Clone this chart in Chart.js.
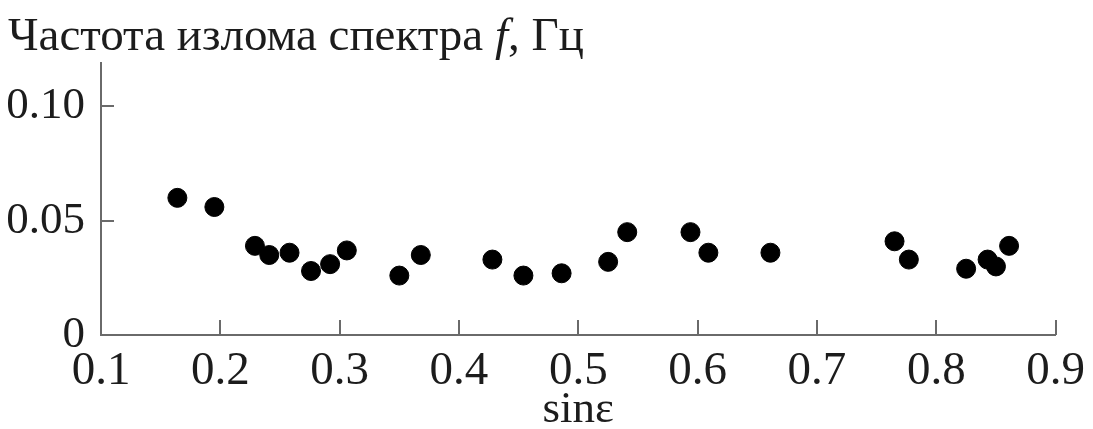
<!DOCTYPE html>
<html>
<head>
<meta charset="utf-8">
<script src="https://cdn.jsdelivr.net/npm/chart.js@4/dist/chart.umd.min.js"></script>
<style>
  html, body { margin: 0; padding: 0; background: #ffffff; }
  #wrap { width: 1093px; height: 429px; }
</style>
</head>
<body>
<div id="wrap"><canvas id="c" width="1093" height="429"></canvas></div>
<script>
// sin(ε) for each observation
const sinEps = [0.164, 0.195, 0.229, 0.241, 0.258, 0.276, 0.292, 0.306,
                0.350, 0.368, 0.428, 0.454, 0.486, 0.525, 0.541,
                0.594, 0.609, 0.661, 0.765, 0.777, 0.825, 0.843, 0.850, 0.861];
// spectral break frequency f, Hz
const breakFreq = [0.060, 0.056, 0.039, 0.035, 0.036, 0.028, 0.031, 0.037,
                   0.026, 0.035, 0.033, 0.026, 0.027, 0.032, 0.045,
                   0.045, 0.036, 0.036, 0.041, 0.033, 0.029, 0.033, 0.030, 0.039];

const xTickValues = [0.1, 0.2, 0.3, 0.4, 0.5, 0.6, 0.7, 0.8, 0.9];
const xTickLabels = ['0.1', '0.2', '0.3', '0.4', '0.5', '0.6', '0.7', '0.8', '0.9'];
const yTickValues = [0, 0.05, 0.10];
const yTickLabels = ['0', '0.05', '0.10'];

const yTitleParts = [
  { text: 'Частота излома спектра ', style: 'normal' },
  { text: 'f', style: 'italic' },
  { text: ', Гц', style: 'normal' }
];
const xTitle = 'sinε';

const SERIF = '"Liberation Serif", "DejaVu Serif", serif';
const TEXT = '#1c1c1c';
const AXIS = '#6a6a6a';

// axis title above the plot, with the italic variable name
const topTitle = {
  id: 'topTitle',
  afterDraw(chart) {
    const ctx = chart.ctx;
    ctx.save();
    ctx.fillStyle = TEXT;
    ctx.textBaseline = 'alphabetic';
    ctx.textAlign = 'left';
    let x = 8;
    for (const p of yTitleParts) {
      ctx.font = (p.style === 'italic' ? 'italic ' : '') + '47px ' + SERIF;
      ctx.fillText(p.text, x, 50);
      x += ctx.measureText(p.text).width;
    }
    ctx.restore();
  }
};

// short tick marks pointing into the plot area
const inwardTicks = {
  id: 'inwardTicks',
  beforeDatasetsDraw(chart) {
    const { ctx, chartArea, scales } = chart;
    ctx.save();
    ctx.strokeStyle = AXIS;
    ctx.lineWidth = 2;
    ctx.beginPath();
    for (const v of xTickValues.slice(1)) {
      const px = Math.round(scales.x.getPixelForValue(v));
      ctx.moveTo(px, chartArea.bottom);
      ctx.lineTo(px, chartArea.bottom - 15);
    }
    for (const v of yTickValues.slice(1)) {
      const py = Math.round(scales.y.getPixelForValue(v));
      ctx.moveTo(chartArea.left, py);
      ctx.lineTo(chartArea.left + 13, py);
    }
    ctx.stroke();
    ctx.restore();
  }
};

new Chart(document.getElementById('c'), {
  type: 'scatter',
  data: {
    datasets: [{
      data: sinEps.map((x, i) => ({ x, y: breakFreq[i] })),
      backgroundColor: '#000000',
      borderColor: '#000000',
      borderWidth: 1,
      pointRadius: 9.5,
      pointHoverRadius: 9.5
    }]
  },
  options: {
    responsive: false,
    animation: false,
    events: [],
    layout: { padding: { top: 63, left: 8, right: 36, bottom: 0 } },
    plugins: { legend: { display: false }, tooltip: { enabled: false }, title: { display: false } },
    scales: {
      x: {
        type: 'linear',
        min: 0.1,
        max: 0.9,
        afterBuildTicks: s => { s.ticks = xTickValues.map(v => ({ value: v })); },
        afterFit: s => { s.height = 94; },
        grid: { drawOnChartArea: false, drawTicks: false },
        border: { display: true, color: AXIS, width: 2 },
        ticks: {
          padding: 8,
          color: TEXT,
          font: { family: SERIF, size: 47 },
          maxRotation: 0,
          autoSkip: false,
          callback: (v, i) => xTickLabels[i]
        },
        title: {
          display: true,
          text: xTitle,
          color: TEXT,
          font: { family: SERIF, size: 45 },
          padding: { top: 4, bottom: -8 }
        }
      },
      y: {
        type: 'linear',
        min: 0,
        max: 0.119,
        afterBuildTicks: s => { s.ticks = yTickValues.map(v => ({ value: v })); },
        afterFit: s => { s.width = 93; },
        grid: { drawOnChartArea: false, drawTicks: false },
        border: { display: true, color: AXIS, width: 2 },
        ticks: {
          padding: 16,
          color: TEXT,
          font: { family: SERIF, size: 45 },
          callback: (v, i) => yTickLabels[i]
        }
      }
    }
  },
  plugins: [topTitle, inwardTicks]
});
</script>
</body>
</html>
